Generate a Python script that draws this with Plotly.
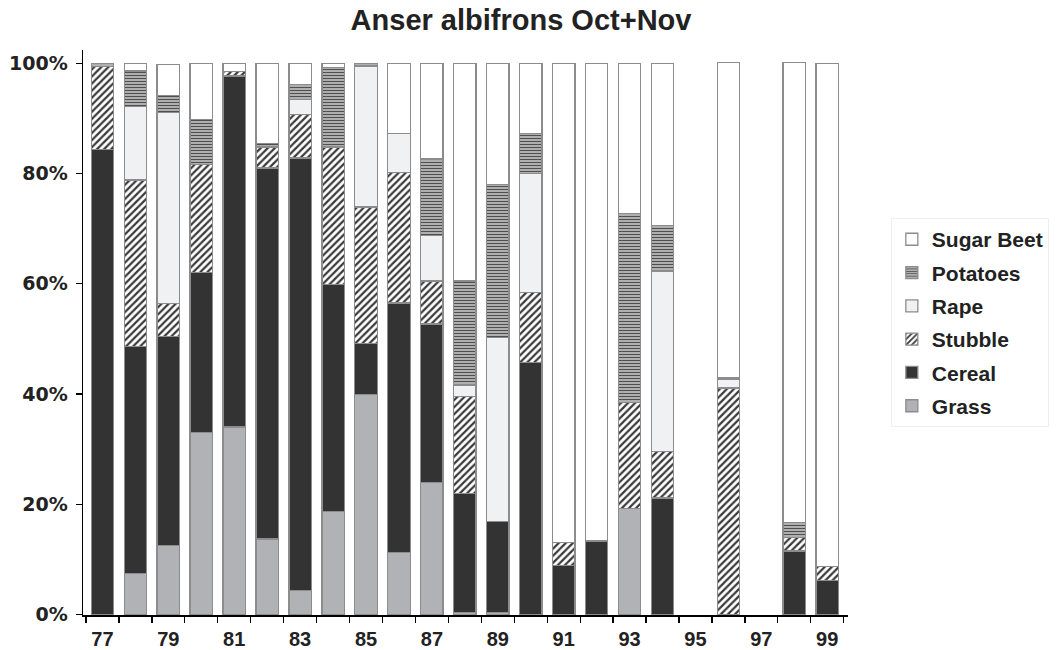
import plotly.graph_objects as go

years = ["77", "78", "79", "80", "81", "82", "83", "84", "85", "86", "87", "88",
         "89", "90", "91", "92", "93", "94", "95", "96", "97", "98", "99"]
tick_labels = [y if int(y) % 2 == 1 else "" for y in years]

grass = [0, 7.4, 12.5, 33.0, 34.0, 13.7, 4.3, 18.7, 39.9, 11.3, 24.0, 0.4,
         0.4, 0, 0, 0, 19.2, 0, 0, 0, 0, 0, 0]
cereal = [84.4, 41.2, 37.9, 29.0, 63.7, 67.3, 78.5, 41.2, 9.2, 45.2, 28.7, 21.6,
          16.5, 45.7, 8.9, 13.3, 0, 21.1, 0, 0, 0, 11.5, 6.2]
stubble = [15.0, 30.2, 6.0, 19.6, 0.8, 3.8, 7.9, 24.9, 24.8, 23.7, 7.8, 17.5,
           0, 12.7, 4.1, 0, 19.3, 8.4, 0, 41.1, 0, 2.4, 2.5]
rape = [0, 13.3, 34.7, 0, 0, 0, 2.7, 0, 25.6, 7.1, 8.2, 2.1,
        33.3, 21.6, 0, 0, 0, 32.8, 0, 1.5, 0, 0, 0]
potatoes = [0.6, 6.5, 3.0, 8.2, 0, 0.7, 2.7, 14.4, 0.4, 0, 13.9, 18.9,
            27.8, 7.2, 0, 0, 34.3, 8.2, 0, 0.3, 0, 2.8, 0]
sugar_beet = [0, 1.3, 5.7, 10.1, 1.5, 14.4, 3.8, 0.7, 0, 12.7, 17.4, 39.4,
              22.0, 12.7, 87.0, 86.7, 27.2, 29.4, 0, 57.2, 0, 83.4, 91.3]

series = [
    ("Grass", grass, dict(color="#b1b2b6")),
    ("Cereal", cereal, dict(color="#333333")),
    ("Stubble", stubble, dict(color="#ffffff",
                              pattern=dict(shape="/", fgcolor="#3a3a3a", bgcolor="#ffffff",
                                           size=5, solidity=0.45, fillmode="replace"))),
    ("Rape", rape, dict(color="#f0f1f3")),
    ("Potatoes", potatoes, dict(color="#cfcfcf",
                                pattern=dict(shape="-", fgcolor="#4f4f4f", bgcolor="#cfcfcf",
                                             size=3, solidity=0.5, fillmode="replace"))),
    ("Sugar Beet", sugar_beet, dict(color="#ffffff")),
]

fig = go.Figure()
n = len(series)
for i, (name, vals, mk) in enumerate(series):
    mk = dict(mk)
    mk["line"] = dict(color="#8c8c8c", width=1.3)
    fig.add_trace(go.Bar(
        name=name, x=years, y=[v if v else None for v in vals],
        marker=mk, legendgroup=name, legendrank=n - i,
    ))

font_main = "Liberation Sans, Arial, Helvetica, sans-serif"

fig.update_layout(
    barmode="stack",
    bargap=0.32,
    width=1062, height=650,
    margin=dict(l=83, r=214, t=50, b=35, autoexpand=False),
    paper_bgcolor="white", plot_bgcolor="white",
    font=dict(family=font_main, color="#222222"),
    title=dict(text="<b>Anser albifrons Oct+Nov</b>", x=0.4906, xref="container",
               xanchor="center", y=0.970, yref="container", yanchor="middle",
               font=dict(size=29, family=font_main, color="#222222")),
    legend=dict(x=1.056, xanchor="left", y=0.7025, yanchor="top",
                traceorder="grouped", tracegroupgap=3,
                font=dict(size=21, family=font_main, color="#222222", weight="bold"),
                bordercolor="#eeeeee", borderwidth=1, bgcolor="white"),
    showlegend=True,
)
fig.update_xaxes(
    type="category", categoryorder="array", categoryarray=years,
    range=[-0.59, 22.63], automargin=False,
    tickmode="array", tickvals=years, ticktext=tick_labels,
    tickson="boundaries", ticks="outside", ticklen=6, tickcolor="black", tickwidth=1.3,
    showline=True, linecolor="black", linewidth=1.5,
    tickfont=dict(size=20, family=font_main, color="#222222", weight="bold"),
    ticklabelstandoff=5,
    showgrid=False, zeroline=False,
)
fig.update_yaxes(
    range=[-0.1, 102.4], automargin=False,
    tickmode="array", tickvals=[0, 20, 40, 60, 80, 100],
    ticktext=["0%", "20%", "40%", "60%", "80%", "100%"],
    ticks="outside", ticklen=6, tickcolor="black", tickwidth=1.3,
    showline=True, linecolor="black", linewidth=1.5,
    tickfont=dict(size=19, family="DejaVu Sans, sans-serif", color="#222222", weight="bold"),
    ticklabelstandoff=4,
    showgrid=False, zeroline=False,
)

fig.write_html("out.html",
               config={"displayModeBar": False, "staticPlot": True},
               post_script="document.body.style.margin='0';document.body.style.overflow='hidden';")
